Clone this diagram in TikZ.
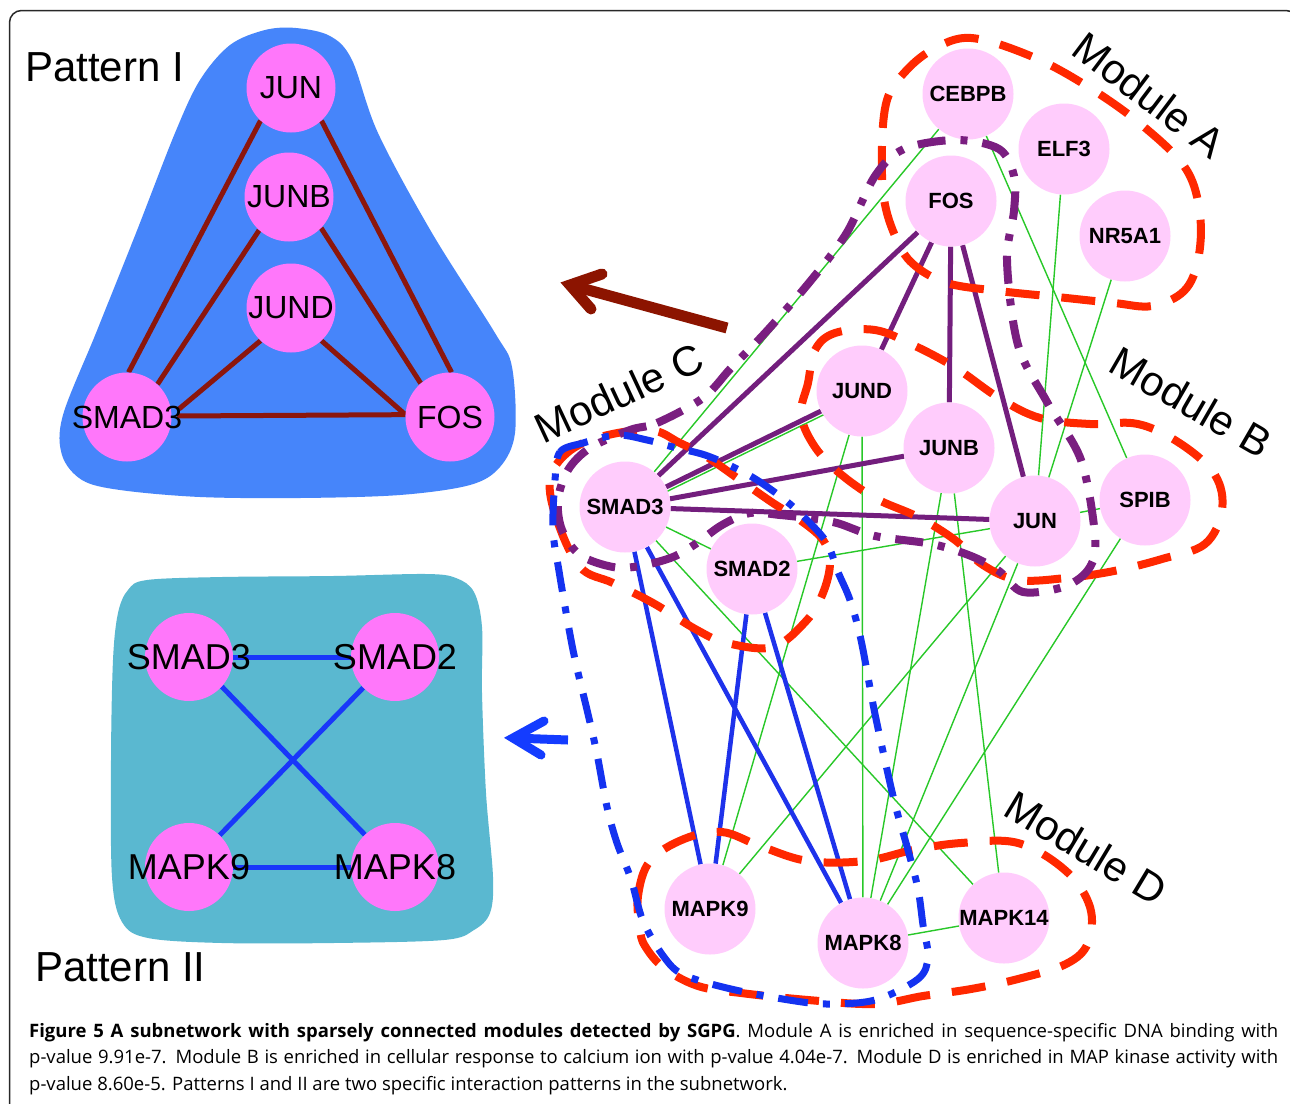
\documentclass[tikz,border=0pt]{standalone}
\usepackage{fontspec}
\setmainfont{Liberation Sans}
\newfontfamily\capfont{Open Sans}
\usetikzlibrary{calc}
\pgfdeclarelayer{back}
\pgfdeclarelayer{edges}
\pgfdeclarelayer{front}
\pgfsetlayers{back,edges,main,front}
\definecolor{netpink}{RGB}{255,204,252}
\definecolor{patmag}{RGB}{255,119,250}
\definecolor{pIblue}{RGB}{70,133,250}
\definecolor{pIIteal}{RGB}{90,184,208}
\definecolor{pIred}{RGB}{140,22,12}
\definecolor{pIIblue}{RGB}{25,55,250}
\definecolor{modred}{RGB}{255,40,0}
\definecolor{modpurple}{RGB}{122,30,128}
\definecolor{modblue}{RGB}{20,50,240}
\definecolor{edgegreen}{RGB}{40,200,40}
\definecolor{edgepurple}{RGB}{115,30,125}
\definecolor{edgeblue}{RGB}{30,50,235}
\definecolor{arrowred}{RGB}{140,20,0}
\definecolor{arrowblue}{RGB}{20,60,255}
\definecolor{framegray}{RGB}{40,40,40}
\newcommand{\nlab}[1]{\makebox[0pt]{#1}}
\begin{document}
\begin{tikzpicture}[x=1pt,y=-1pt,
  netnode/.style={circle, fill=netpink, minimum size=91pt, inner sep=0pt, font=\fontsize{22}{24}\selectfont\bfseries},
  patInode/.style={circle, fill=patmag, minimum size=89pt, inner sep=0pt, font=\fontsize{32}{34}\selectfont},
  patIInode/.style={circle, fill=patmag, minimum size=88pt, inner sep=0pt, font=\fontsize{36}{38}\selectfont},
  modlabel/.style={inner sep=0pt, font=\fontsize{42}{44}\selectfont},
  patlabel/.style={inner sep=0pt, anchor=base west, font=\fontsize{42}{44}\selectfont},
  caplabel/.style={inner sep=0pt, anchor=base west, font=\capfont\fontsize{18.5}{26}\selectfont},
  gedge/.style={draw=edgegreen, line width=1.4pt},
  pedge/.style={draw=edgepurple, line width=5pt},
  bedge/.style={draw=edgeblue, line width=4.5pt},
  pIedge/.style={draw=pIred, line width=5pt},
  pIIedge/.style={draw=pIIblue, line width=5pt},
  redloop/.style={draw=modred, line width=8pt, dash pattern=on 34pt off 22pt},
  purploop/.style={draw=modpurple, line width=8pt, dash pattern=on 28pt off 15pt on 7pt off 15pt},
  blueloop/.style={draw=modblue, line width=7pt, dash pattern=on 30pt off 15pt on 7pt off 15pt},
  bigarrow/.style={line width=11pt}
]
\useasboundingbox (0,0) rectangle (1290,1103);
\begin{pgfonlayer}{back}
\fill[white] (0,0) rectangle (1290,1103);
\end{pgfonlayer}
\begin{scope}
\clip (0,0) rectangle (1290,1103);
\draw[framegray, line width=1.5pt, rounded corners=12pt] (9.5,10.5) rectangle (1298,1140);
\end{scope}

% ---------------- Pattern blobs ----------------
\begin{pgfonlayer}{back}
\fill[pIblue] plot[smooth cycle, tension=0.55] coordinates {
 (175,133) (200,80) (230,45) (265,30) (296,28) (330,36) (352,60) (378,133)
 (432,233) (495,333) (512,367) (515,433) (500,467) (470,485) (400,495)
 (300,498) (200,497) (120,490) (82,480) (62,455) (63,415) (96,333) (136,233)};
\fill[pIIteal] plot[smooth cycle, tension=0.55] coordinates {
 (128,590) (147,580) (222,577) (333,576) (426,574) (456,578) (474,592)
 (482,627) (482,693) (486,793) (493,877) (490,913) (474,930) (444,940)
 (333,943) (222,943) (148,938) (122,922) (112,877) (111,760) (113,660) (118,613)};
\end{pgfonlayer}

\node[patlabel] (patI) at (25,81) {Pattern I};
\node[patlabel] (patII) at (35,981) {Pattern II};

\node[patInode] (pjun)  at (291,88)  {\nlab{JUN}};
\node[patInode] (pjunb) at (289,197) {\nlab{JUNB}};
\node[patInode] (pjund) at (291,308) {\nlab{JUND}};
\node[patInode] (psmad) at (127,417) {\nlab{SMAD3}};
\node[patInode] (pfos)  at (450,417) {\nlab{FOS}};

\begin{pgfonlayer}{edges}
\draw[pIedge] (psmad.88) -- (pjun.227);
\draw[pIedge] (pjun.313) -- (pfos.88);
\draw[pIedge] (pjunb.228) -- (psmad.47);
\draw[pIedge] (pjunb.316) -- (pfos.131);
\draw[pIedge] (pjund.227) -- ($(psmad.center)+(52,-8)$);
\draw[pIedge] (pjund.313) -- (pfos.177);
\draw[pIedge] ($(psmad.center)+(50,-1)$) -- (pfos.177);
\end{pgfonlayer}

% ---------------- Pattern II ----------------
\node[patIInode] (qsmad3) at (189,657) {\nlab{SMAD3}};
\node[patIInode] (qsmad2) at (395,657) {\nlab{SMAD2}};
\node[patIInode] (qmapk9) at (189,867) {\nlab{MAPK9}};
\node[patIInode] (qmapk8) at (395,867) {\nlab{MAPK8}};
\begin{pgfonlayer}{edges}
\draw[pIIedge] (qsmad3) -- (qsmad2);
\draw[pIIedge] (qmapk9) -- (qmapk8);
\draw[pIIedge] (qsmad3.318) -- (qmapk8.133);
\draw[pIIedge] (qsmad2.224) -- (qmapk9.46);
\end{pgfonlayer}

% ---------------- arrows ----------------
\coordinate (ratail) at (727,328);
\coordinate (ratip) at (570,285);
\coordinate (raarmA) at (602,274);
\coordinate (raarmB) at (591,309);
\draw[arrowred, bigarrow] (ratail) -- (ratip);
\draw[arrowred, bigarrow, line cap=round, line join=miter] (raarmA) -- (ratip) -- (raarmB);
\coordinate (batail) at (568,740);
\coordinate (batip) at (513,738);
\coordinate (baarmA) at (544,721);
\coordinate (baarmB) at (541,755);
\draw[arrowblue, line width=9pt] (batail) -- (batip);
\draw[arrowblue, line width=9pt, line cap=round, line join=miter] (baarmA) -- (batip) -- (baarmB);

% ---------------- network ----------------
\node[netnode] (cebpb) at (968,94)  {\nlab{CEBPB}};
\node[netnode] (elf3)  at (1064,149) {\nlab{ELF3}};
\node[netnode] (fos)   at (951,201) {\nlab{FOS}};
\node[netnode] (nr5a1) at (1125,236) {\nlab{NR5A1}};
\node[netnode] (jund)  at (862,391) {\nlab{JUND}};
\node[netnode] (junb)  at (949,448) {\nlab{JUNB}};
\node[netnode] (jun)   at (1035,521) {\nlab{JUN}};
\node[netnode] (spib)  at (1145,500) {\nlab{SPIB}};
\node[netnode] (smad3) at (625,507) {\nlab{SMAD3}};
\node[netnode] (smad2) at (752,569) {\nlab{SMAD2}};
\node[netnode] (mapk9) at (710,909) {\nlab{MAPK9}};
\node[netnode] (mapk8) at (863,943) {\nlab{MAPK8}};
\node[netnode] (mapk14) at (1004,918) {\nlab{MAPK14}};

\begin{pgfonlayer}{edges}
\draw[gedge] (cebpb) -- (smad3);
\draw[gedge] (cebpb) -- (spib);
\draw[gedge] (elf3) -- (jun);
\draw[gedge] (nr5a1) -- (jun);
\draw[gedge] ([yshift=-5pt]smad3.center) -- ([yshift=-5pt]jund.center);
\draw[gedge] (jund) -- (mapk9);
\draw[gedge] (jund) -- (mapk8);
\draw[gedge] (junb) -- (mapk8);
\draw[gedge] (junb) -- (mapk14);
\draw[gedge] (jun) -- (mapk9);
\draw[gedge] (jun) -- (mapk8);
\draw[gedge] (spib) -- (mapk8);
\draw[gedge] (jun) -- (spib);
\draw[gedge] (jun) -- (smad2);
\draw[gedge] (smad3) -- (smad2);
\draw[gedge] (smad3) -- (mapk14);
\draw[gedge] (mapk8) -- (mapk14);
\draw[pedge] (fos) -- (smad3);
\draw[pedge] (fos) -- (jund);
\draw[pedge] (fos) -- (junb);
\draw[pedge] (fos) -- (jun);
\draw[pedge] (smad3) -- (jund);
\draw[pedge] (smad3) -- (junb);
\draw[pedge] (smad3) -- (jun);
\draw[bedge] (smad3) -- (mapk9);
\draw[bedge] (smad3) -- (mapk8);
\draw[bedge] (smad2) -- (mapk9);
\draw[bedge] (smad2) -- (mapk8);
\end{pgfonlayer}

\begin{pgfonlayer}{front}
% Module A
\draw[redloop] plot[smooth cycle, tension=0.6] coordinates {
 (887,100) (882,146) (884,199) (896,238) (913,264) (947,283) (999,291) (1057,297)
 (1114,303) (1152,306) (1184,291) (1198,260) (1200,215) (1186,169) (1143,126)
 (1090,88) (1033,57) (971,38) (932,50) (904,73)};
% Module B
\draw[redloop] plot[smooth cycle, tension=0.6] coordinates {
 (808,383) (815,350) (835,333) (875,330) (913,345) (956,368) (999,398) (1040,418)
 (1090,424) (1138,424) (1181,444) (1215,475) (1222,510) (1205,544) (1162,559)
 (1114,571) (1066,578) (1018,580) (983,565) (955,540) (918,517) (875,498)
 (837,471) (813,444) (801,414)};
% SMAD loop
\draw[redloop] plot[smooth cycle, tension=0.6] coordinates {
 (550,480) (557,520) (580,567) (613,583) (653,603) (697,630) (727,643) (773,647)
 (807,620) (823,593) (830,563) (823,540) (800,520) (773,503) (740,480) (707,457)
 (680,443) (650,430) (600,437) (567,453)};
% Module D
\draw[redloop] plot[smooth cycle, tension=0.6] coordinates {
 (640,929) (638,896) (650,861) (684,839) (722,832) (760,846) (808,861) (865,861)
 (913,850) (961,843) (1018,843) (1066,871) (1090,907) (1088,943) (1066,964)
 (1018,979) (971,989) (923,996) (875,1004) (808,1000) (741,993) (698,986)
 (664,968) (645,946)};
% Module C (purple)
\draw[purploop] plot[smooth cycle, tension=0.55] coordinates {
 (630,430) (657,423) (703,398) (731,368) (765,333) (808,284) (846,234) (875,176)
 (904,149) (956,140) (999,149) (1014,176) (1014,211) (1007,261) (1018,345)
 (1047,402) (1081,460) (1095,536) (1090,567) (1066,586) (1023,592) (999,571)
 (971,556) (932,544) (875,536) (837,523) (807,518) (780,515) (750,513) (722,525)
 (697,543) (673,557) (640,566) (613,567) (580,555) (562,530) (558,500) (568,470) (590,448)};
% Pattern II loop (blue)
\draw[blueloop] plot[smooth cycle, tension=0.55] coordinates {
 (555,480) (560,452) (583,443) (617,435) (647,440) (673,447) (705,455) (733,467)
 (757,480) (785,500) (807,520) (827,543) (838,572) (850,600) (861,640) (875,714)
 (894,800) (908,850) (918,889) (923,925) (928,957) (918,979) (875,1000) (827,1004)
 (789,1000) (731,989) (684,975) (664,957) (643,921) (631,879) (617,843) (607,807)
 (597,754) (588,714) (576,664) (569,629) (559,571) (553,530)};
\end{pgfonlayer}

\node[modlabel, rotate=-37] (labA) at (1149,95) {Module A};
\node[modlabel, rotate=-30] (labB) at (1191,402) {Module B};
\node[modlabel, rotate=25] (labC) at (619,393) {Module C};
\node[modlabel, rotate=-31] (labD) at (1086,848) {Module D};

% ---------------- caption ----------------
\node[caplabel] (capA) at (29,1037) {\makebox[1249pt][s]{\textbf{Figure 5 A subnetwork with sparsely connected modules detected by SGPG}. Module A is enriched in sequence-specific DNA binding with}};
\node[caplabel] (capB) at (29,1063.5) {\makebox[1249pt][s]{p-value 9.91e-7. Module B is enriched in cellular response to calcium ion with p-value 4.04e-7. Module D is enriched in MAP kinase activity with}};
\node[caplabel] (capC) at (29,1090) {p-value 8.60e-5. Patterns I and II are two specific interaction patterns in the subnetwork.};
\end{tikzpicture}
\end{document}
